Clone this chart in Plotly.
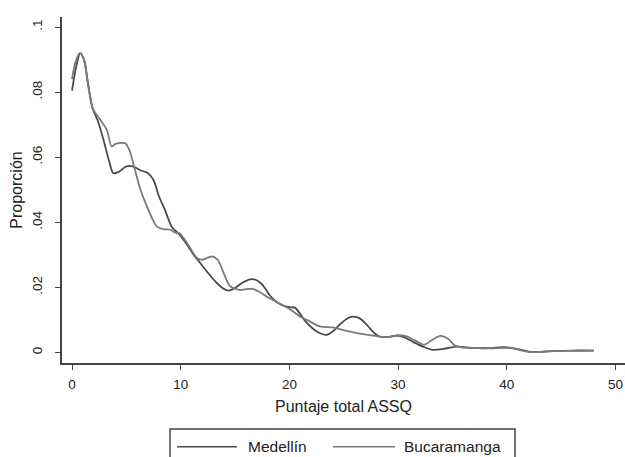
import plotly.graph_objects as go

med_x = [0, 0.4, 0.75, 1.1, 1.5, 1.9, 2.4, 2.9, 3.4, 3.8, 4.3, 5.0, 5.6, 6.3, 7.0, 7.5, 8.0, 8.55,
         9.2, 9.8, 10.5, 11.2, 11.8, 12.5, 13.2, 13.9, 14.4, 15.0, 15.7, 16.4, 17.0, 17.6, 18.2,
         18.8, 19.5, 20.05, 20.5, 21.0, 21.5, 22.2, 22.8, 23.4, 24.0, 24.7, 25.4, 25.9, 26.5,
         27.2, 27.8, 28.3, 29.0, 29.9, 30.6, 31.4, 32.3, 33.2, 34.2, 35.4, 36.5, 37.8, 39.0,
         40.0, 41.0, 42.1, 43.0, 44.5, 46, 48]
med_y = [0.0805, 0.088, 0.092, 0.090, 0.082, 0.075, 0.071, 0.0653, 0.059, 0.0551, 0.0555, 0.0572,
         0.0572, 0.0560, 0.0551, 0.053, 0.048, 0.0438, 0.0385, 0.0365, 0.0335, 0.0300, 0.0275,
         0.0245, 0.0218, 0.0197, 0.019, 0.0198, 0.0215, 0.0225, 0.0222, 0.0205, 0.0175, 0.0156,
         0.0143, 0.0139, 0.0138, 0.0118, 0.0095, 0.0072, 0.0059, 0.0054, 0.0065, 0.0088, 0.0106,
         0.011, 0.0104, 0.0082, 0.0060, 0.0049, 0.0048, 0.0052, 0.0046, 0.0032, 0.0018, 0.0008,
         0.0011, 0.0018, 0.0015, 0.0013, 0.0015, 0.0016, 0.0010, 0.0002, 0.0002, 0.0005, 0.0006,
         0.0006]

buc_x = [0, 0.3, 0.7, 1.1, 1.5, 1.9, 2.6, 3.2, 3.65, 4.0, 4.9, 5.3, 5.8, 6.3, 6.9, 7.4, 7.8, 8.4,
         9.0, 9.5, 9.9, 10.3, 10.8, 11.5, 12.0, 12.85, 13.4, 14.0, 14.5, 15.0, 15.5, 16.1, 16.7,
         17.3, 18.0, 18.5, 19.2, 19.9, 20.5, 21.0, 21.9, 22.8, 24.0, 24.8, 25.6, 26.5, 27.5,
         28.3, 29.2, 30.0, 30.7, 31.5, 32.4, 33.1, 33.9, 34.6, 35.2, 35.8, 37, 38.5, 39.5, 40.5,
         41.5, 42.3, 43.5, 45, 48]
buc_y = [0.084, 0.089, 0.092, 0.090, 0.082, 0.075, 0.0715, 0.0684, 0.0633, 0.0641, 0.0643, 0.062,
         0.056, 0.050, 0.0448, 0.041, 0.0387, 0.0379, 0.0378, 0.0368, 0.0366, 0.035, 0.0325,
         0.0290, 0.0285, 0.0295, 0.0285, 0.0240, 0.0205, 0.0196, 0.0192, 0.0195, 0.0195, 0.0185,
         0.0170, 0.0161, 0.0148, 0.0136, 0.0122, 0.0110, 0.0095, 0.0080, 0.0077, 0.0070, 0.0064,
         0.0058, 0.0053, 0.0049, 0.0048, 0.0053, 0.0050, 0.0038, 0.0024, 0.0038, 0.0051, 0.0042,
         0.0022, 0.0016, 0.0014, 0.0013, 0.0014, 0.0014, 0.0005, 0.0001, 0.0003, 0.0005, 0.0006]

x_ticks = [0, 10, 20, 30, 40, 50]
y_ticks = [0, 0.02, 0.04, 0.06, 0.08, 0.1]
y_tick_labels = ["0", ".02", ".04", ".06", ".08", ".1"]
series_names = ["Medellín", "Bucaramanga"]
series_colors = ["#4a4a4a", "#7a7a7a"]

font = "Liberation Sans, Arial, sans-serif"

fig = go.Figure()
for name, xs, ys, col in zip(series_names, [med_x, buc_x], [med_y, buc_y], series_colors):
    fig.add_trace(go.Scatter(x=xs, y=ys, mode="lines", name=name, showlegend=False,
                             line=dict(color=col, width=1.8, shape="spline", smoothing=0.8)))

# custom legend box (Stata style)
shapes = [dict(type="rect", xref="paper", yref="paper", x0=0.1918, x1=0.8046, y0=-0.32, y1=-0.1908,
               line=dict(color="#444", width=1.5), fillcolor="rgba(0,0,0,0)")]
annotations = []
legend_pos = [(0.2043, 0.3108, 0.3268), (0.4813, 0.5915, 0.6040)]
for (lx0, lx1, tx), name, col in zip(legend_pos, series_names, series_colors):
    shapes.append(dict(type="line", xref="paper", yref="paper", x0=lx0, x1=lx1,
                       y0=-0.2419, y1=-0.2419, line=dict(color=col, width=1.5)))
    annotations.append(dict(xref="paper", yref="paper", x=tx, y=-0.2419, text=name,
                            showarrow=False, xanchor="left", yanchor="middle",
                            font=dict(size=15.5, family=font, color="#222")))

fig.update_layout(
    width=625, height=457,
    margin=dict(l=62, r=0, t=17, b=94),
    paper_bgcolor="white", plot_bgcolor="white",
    font=dict(family=font, size=13.5, color="#222"),
    showlegend=False,
    shapes=shapes, annotations=annotations,
    xaxis=dict(range=[-0.92, 50.87], tickvals=x_ticks, showgrid=False, zeroline=False,
               showline=True, linecolor="#444", linewidth=1.5, ticks="outside",
               ticklen=5, tickwidth=1.2, tickcolor="#444", ticklabelstandoff=3,
               title=dict(text="Puntaje total ASSQ", standoff=10)),
    yaxis=dict(range=[-0.00323, 0.1031], tickvals=y_ticks, ticktext=y_tick_labels,
               tickangle=-90, showgrid=False, zeroline=False,
               showline=True, linecolor="#444", linewidth=1.5, ticks="outside",
               ticklen=5, tickwidth=1.2, tickcolor="#444", ticklabelstandoff=8,
               title=dict(text="Proporción", standoff=3)),
)

fig.write_html("out.html", config={"displayModeBar": False},
               post_script="document.body.style.margin='0';document.body.style.overflow='hidden';")
